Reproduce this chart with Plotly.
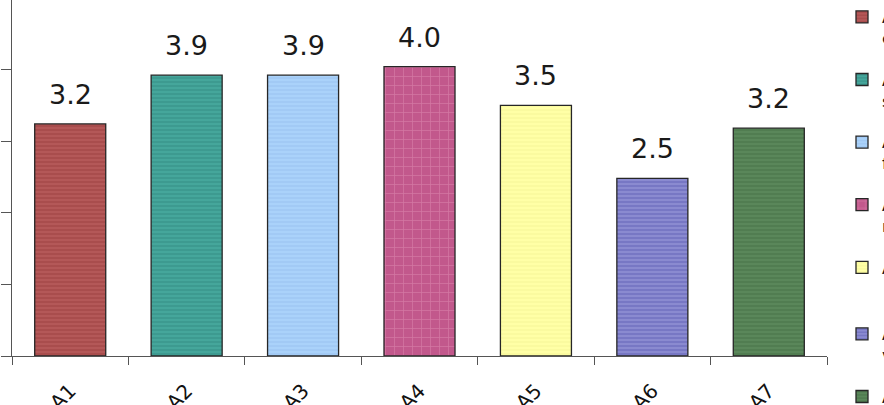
import plotly.graph_objects as go

categories = ["A1", "A2", "A3", "A4", "A5", "A6", "A7"]
values = [3.24, 3.92, 3.92, 4.04, 3.50, 2.48, 3.18]
legend_names = [
    "A1<br>communication",
    "A2<br>support",
    "A3<br>facilities",
    "A4<br>resources",
    "A5<br> ",
    "A6<br>value",
    "A7<br>overall",
]
colors = ["#B45858", "#45A69B", "#AAD2FA", "#C2588C", "#FFFFA6", "#8A8AD0", "#5A875A"]
stripe = ["#8E3434", "#2A7F76", "#8DB8E8", "#E9A0C2", "#EDED8E", "#4A4AA8", "#3A653A"]
shapes = ["-", "-", "-", "+", "-", "-", "-"]

fig = go.Figure()
for i, cat in enumerate(categories):
    fig.add_trace(go.Bar(
        x=[cat], y=[values[i]], name=legend_names[i],
        width=0.61,
        marker=dict(
            color=colors[i],
            line=dict(color="#262626", width=1.3),
            pattern=dict(shape=shapes[i], size=4 if shapes[i] == "-" else 9,
                         solidity=0.35 if shapes[i] == "-" else 0.15,
                         fgcolor=stripe[i], fgopacity=0.45),
        ),
        legendgroup=str(i),
        legend="legend" if i < 5 else "legend2",
        hoverinfo="skip",
    ))
    fig.add_annotation(
        x=cat, y=values[i], text=f"{values[i]:.1f}",
        showarrow=False, yanchor="bottom", yshift=12,
        font=dict(family="DejaVu Sans", size=27, color="#1a1a1a"),
    )

legend_style = dict(
    xanchor="left", yanchor="top",
    font=dict(family="DejaVu Sans", size=16, color="#111"),
    valign="top", tracegroupgap=18,
    bgcolor="rgba(0,0,0,0)",
)

fig.update_layout(
    width=884, height=405,
    margin=dict(l=12, r=57, t=0, b=49, autoexpand=False),
    paper_bgcolor="white", plot_bgcolor="white",
    barmode="overlay",
    showlegend=True,
    legend=dict(x=1.0184, y=1.0, **legend_style),
    legend2=dict(x=1.0184, y=1 - 317 / 356, **legend_style),
    font=dict(family="DejaVu Sans", color="#111"),
)
fig.update_xaxes(
    type="category", showline=True, linecolor="#555", linewidth=1.3,
    ticks="outside", ticklen=8, tickcolor="#555", tickwidth=1.3,
    tickson="boundaries", tickangle=-45, ticklabelstandoff=14,
    tickfont=dict(family="DejaVu Sans", size=20, color="#111"),
    showgrid=False, zeroline=False, automargin=False,
)
fig.update_yaxes(
    range=[0, 4.97], dtick=1, showline=True, linecolor="#555", linewidth=1.3,
    ticks="outside", ticklen=10, tickcolor="#555", tickwidth=1.3,
    showticklabels=False, showgrid=False, zeroline=False, automargin=False,
)

fig.write_html("out.html")
